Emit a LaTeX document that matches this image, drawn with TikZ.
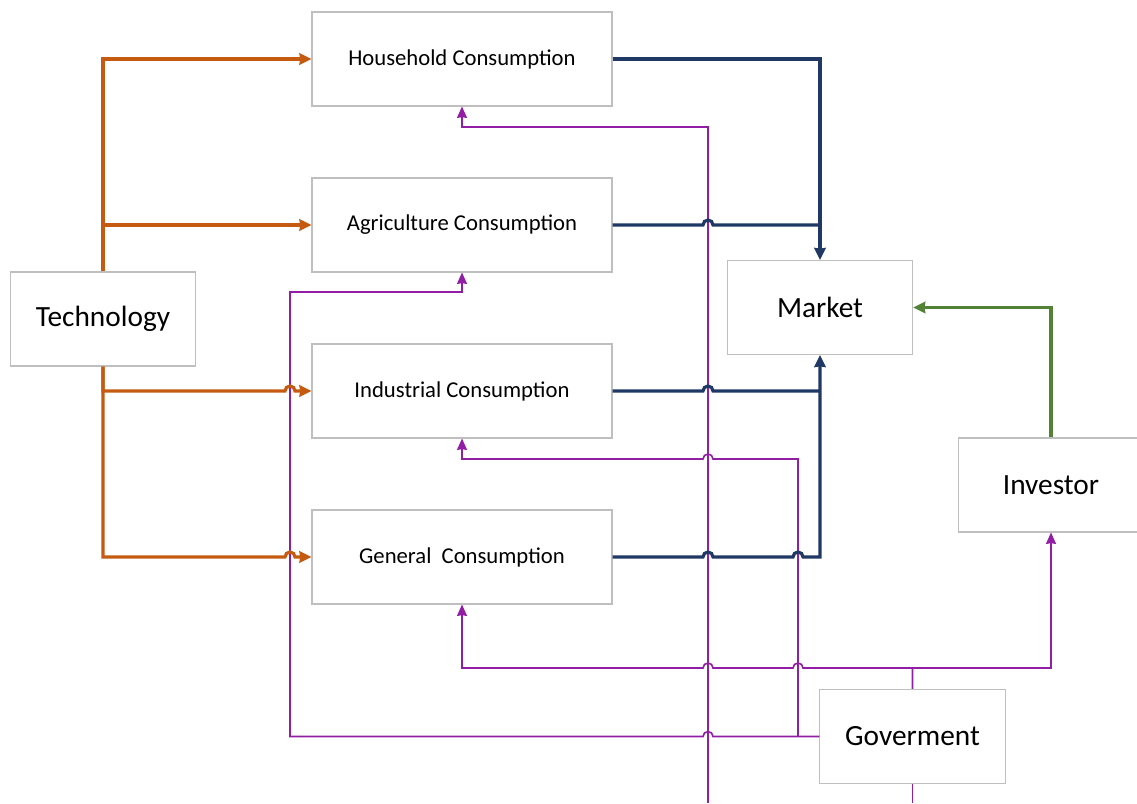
\documentclass[tikz,border=0pt]{standalone}
\usepackage{fontspec}
\setmainfont{Carlito}
\usepackage{tikz}
\usetikzlibrary{calc,arrows.meta}
\definecolor{techcol}{RGB}{197,90,17}
\definecolor{mktcol}{RGB}{31,56,100}
\definecolor{invcol}{RGB}{83,129,53}
\definecolor{govcol}{RGB}{145,30,165}
\newcommand{\hopr}{arc[start angle=180,end angle=0,radius=3.75pt]}
\newcommand{\hopl}{arc[start angle=0,end angle=180,radius=3.75pt]}
\tikzset{
	box/.style={draw=black!25,line width=0.8pt,minimum height=70.5pt},
	cons/.style={box,minimum width=225pt,font=\fontsize{17}{20}\selectfont},
	actor/.style={box,minimum width=139pt,font=\fontsize{22}{26}\selectfont},
	bigtip/.style={-{Stealth[length=9pt,width=8.5pt,inset=0.5pt]}},
	smalltip/.style={-{Stealth[length=8.5pt,width=7.5pt,inset=0.5pt]}},
	techline/.style={techcol,line width=2.4pt},
	mktline/.style={mktcol,line width=2.4pt},
	invline/.style={invcol,line width=2.4pt},
	govline/.style={govcol,line width=1.2pt}
}

\begin{document}
\begin{tikzpicture}[x=0.75pt,y=-0.75pt]
			\useasboundingbox (0,0) rectangle (1137,803);
			\node[cons] (hh) at (462,59) {Household Consumption};
			\node[cons] (agr) at (462,225) {Agriculture Consumption};
			\node[cons] (ind) at (462,391) {Industrial Consumption};
			\node[cons] (gen) at (462,557) {General\ \ Consumption};
			\node[actor] (tech) at (103,319) {Technology};
			\node[actor] (market) at (820,307.5) {Market};
			\node[actor] (inv) at (1051,485) {Investor};
			\node[actor] (gov) at (912.5,736.5) {Goverment};
			\coordinate (pl) at (290,292);
			\coordinate (mt) at (708,127);
			\coordinate (mb) at (708,803);
			\coordinate (ib) at (798,459);
			\coordinate (govbus) at (912.5,668);
			% government lines
			\draw[govline,smalltip] (mb) -- (mt) -| (hh.south);
			\draw[govline] (gov.south) -- (gov.south |- mb);
			\draw[govline,smalltip] (gov.north) -- (govbus) -- ($(govbus -| ib)+(3.75pt,0)$) \hopl -- ($(govbus -| mt)+(3.75pt,0)$) \hopl -| (gen.south);
			\draw[govline,smalltip] (govbus) -| (inv.south);
			\draw[govline,smalltip] (gov.west) -- ($(gov.west -| mt)+(3.75pt,0)$) \hopl -| (pl) -| (agr.south);
			\draw[govline,smalltip] (gov.west -| ib) -- (ib) -- ($(ib -| mt)+(3.75pt,0)$) \hopl -| (ind.south);
			% technology lines
			\draw[techline,bigtip] (tech.north) |- (hh.west);
			\draw[techline,bigtip] (tech.north) |- (agr.west);
			\draw[techline,bigtip] (tech.south) |- ($(ind.west -| pl)+(-3.75pt,0)$) \hopr -- (ind.west);
			\draw[techline,bigtip] (tech.south) |- ($(gen.west -| pl)+(-3.75pt,0)$) \hopr -- (gen.west);
			% market lines
			\draw[mktline,bigtip] (hh.east) -| (market.north);
			\draw[mktline] (agr.east) -- ($(agr.east -| mt)+(-3.75pt,0)$) \hopr -- (agr.east -| market.north);
			\draw[mktline] (ind.east) -- ($(ind.east -| mt)+(-3.75pt,0)$) \hopr -- (ind.east -| market.south);
			\draw[mktline,bigtip] (gen.east) -- ($(gen.east -| mt)+(-3.75pt,0)$) \hopr -- ($(gen.east -| ib)+(-3.75pt,0)$) \hopr -| (market.south);
			\draw[invline,bigtip] (inv.north) |- (market.east);
		\end{tikzpicture}
\end{document}
